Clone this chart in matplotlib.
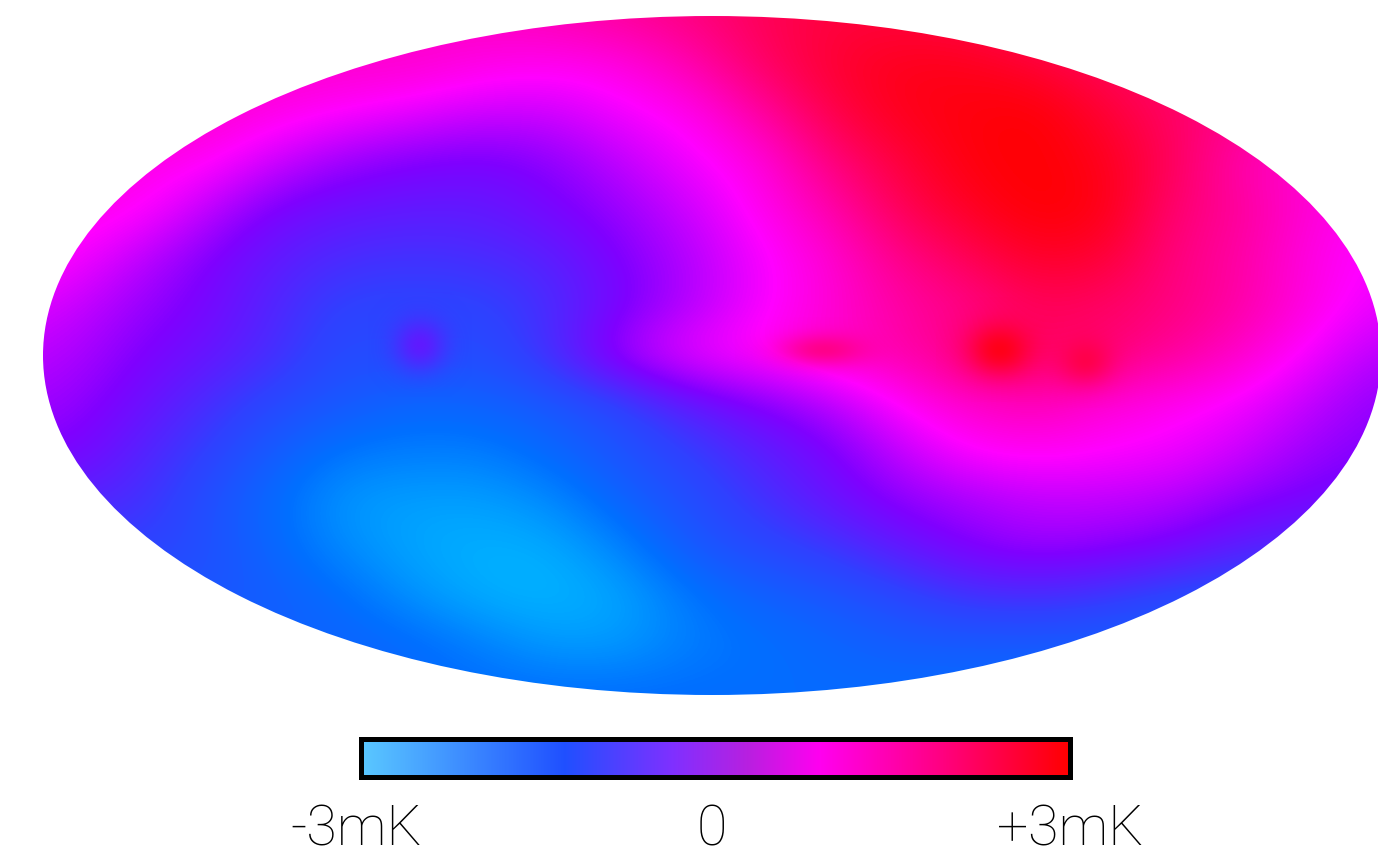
import numpy as np
from matplotlib import pyplot as plt
from matplotlib.colors import LinearSegmentedColormap
from matplotlib.patches import Ellipse, Rectangle

plt.rcParams["font.family"] = ["Roboto", "DejaVu Sans"]

# sky map, one row per line (0 = coldest, 6 = hottest)
row_016 = [4.4, 4.4, 4.4, 4.4, 4.4, 4.4, 4.4, 4.5, 4.6, 4.8, 5.0, 5.3, 5.5, 5.5, 5.4, 5.2, 5.0, 5.0, 5.0, 5.0, 5.0]
row_064 = [4.4, 4.4, 4.4, 4.4, 4.4, 4.4, 4.4, 4.2, 4.1, 4.2, 4.6, 5.2, 5.6, 5.8, 5.8, 5.6, 5.3, 5.1, 5.0, 5.0, 5.0]
row_113 = [4.4, 4.4, 4.4, 4.4, 4.2, 4.0, 3.8, 3.6, 3.6, 3.9, 4.1, 4.7, 5.4, 5.8, 5.9, 6.0, 5.6, 5.2, 4.9, 4.7, 4.6]
row_161 = [4.2, 4.2, 4.2, 4.1, 3.6, 3.2, 3.0, 2.9, 3.1, 3.5, 3.9, 4.2, 5.0, 5.5, 5.9, 6.0, 5.8, 5.3, 4.6, 4.3, 4.2]
row_210 = [4.2, 4.2, 4.1, 3.5, 2.9, 2.7, 2.6, 2.6, 2.9, 3.2, 3.6, 4.1, 4.6, 5.3, 5.7, 6.0, 5.9, 5.1, 4.8, 4.3, 4.0]
row_258 = [4.2, 4.0, 3.5, 3.0, 2.6, 2.3, 2.2, 2.3, 2.5, 3.0, 3.4, 3.9, 4.3, 4.9, 5.3, 5.7, 5.6, 5.0, 4.7, 4.2, 3.9]
row_307 = [3.8, 3.6, 3.2, 2.9, 2.4, 1.9, 1.9, 1.9, 2.3, 2.9, 3.4, 3.9, 4.3, 4.7, 4.9, 5.3, 5.2, 5.0, 4.7, 4.2, 3.8]
row_355 = [3.5, 3.4, 3.0, 2.7, 2.3, 1.7, 1.9, 1.7, 2.3, 3.4, 3.9, 4.1, 4.4, 4.6, 5.1, 5.2, 5.1, 4.8, 4.4, 3.9, 3.4]
row_404 = [3.3, 3.2, 2.8, 2.3, 1.8, 1.5, 1.2, 1.3, 1.5, 1.9, 2.6, 3.0, 3.4, 4.0, 4.4, 4.6, 4.3, 4.1, 3.9, 3.5, 3.1]
row_452 = [3.0, 3.0, 2.5, 2.0, 1.4, 0.9, 0.8, 0.8, 1.2, 1.6, 2.0, 2.5, 2.9, 3.5, 4.0, 4.1, 4.0, 3.9, 3.6, 3.2, 3.0]
row_501 = [2.5, 2.5, 2.3, 1.7, 1.1, 0.4, 0.3, 0.3, 0.6, 1.3, 1.7, 2.2, 2.7, 3.1, 3.3, 3.5, 3.5, 3.4, 3.1, 2.9, 2.7]
row_549 = [2.0, 2.0, 2.0, 1.7, 1.2, 0.6, 0.2, 0.05, 0.1, 0.7, 1.5, 1.8, 2.1, 2.6, 3.0, 3.2, 3.1, 2.9, 2.5, 2.3, 2.3]
row_598 = [1.6, 1.6, 1.6, 1.6, 1.4, 1.1, 0.5, 0.1, 0.0, 0.2, 0.9, 1.3, 1.5, 1.8, 2.2, 2.3, 2.1, 1.8, 1.6, 1.6, 1.6]
row_646 = [1.3, 1.3, 1.3, 1.3, 1.3, 1.3, 1.2, 0.8, 0.4, 0.4, 0.8, 1.0, 1.2, 1.4, 1.4, 1.4, 1.4, 1.3, 1.3, 1.3, 1.3]
row_695 = [1.1, 1.1, 1.1, 1.1, 1.1, 1.1, 1.1, 1.1, 1.1, 1.1, 1.1, 1.1, 1.1, 1.1, 1.1, 1.1, 1.1, 1.1, 1.1, 1.1, 1.1]

sky_rows = [row_016, row_064, row_113, row_161, row_210, row_258, row_307, row_355,
            row_404, row_452, row_501, row_549, row_598, row_646, row_695]

# small spots that the coarse rows are too wide to hold
spot_x = [420, 825, 1000, 1085]
spot_y = [345, 350, 350, 360]
spot_value = [2.6, 4.9, 5.8, 5.4]
spot_rx = [26, 45, 32, 28]
spot_ry = [26, 16, 26, 24]

map_colors = ["#00b4ff", "#0070ff", "#3040ff", "#8000ff", "#ff00ff", "#ff0080", "#ff0000"]
bar_colors = [(0.0, "#5ac8ff"), (0.286, "#2050ff"), (0.44, "#8030ff"),
              (0.545, "#b820e0"), (0.646, "#ff00f0"), (0.82, "#ff0080"), (1.0, "#ff0000")]
bar_labels = ["-3mK", "0", "+3mK"]

map_cmap = LinearSegmentedColormap.from_list("sky", map_colors)
bar_cmap = LinearSegmentedColormap.from_list("bar", bar_colors)

fig = plt.figure(figsize=(13.78, 8.5), dpi=100)
ax = fig.add_axes([0, 0, 1, 1])

# the map
im = ax.imshow(np.array(sky_rows), cmap=map_cmap, vmin=0, vmax=6, interpolation="bicubic",
               extent=[-34.5, 1414.5, 719, -8], aspect="auto")
oval = Ellipse((712, 355.5), 1338, 679, transform=ax.transData, facecolor="none", edgecolor="none")
ax.add_patch(oval)
im.set_clip_path(oval)

# soft edge for the spots
u = np.linspace(-2, 2, 41)
fade = np.exp(-(u[None, :] ** 2 + u[:, None] ** 2))
for x, y, value, rx, ry in zip(spot_x, spot_y, spot_value, spot_rx, spot_ry):
    ax.imshow(np.full((41, 41), value), cmap=map_cmap, vmin=0, vmax=6, alpha=fade, aspect="auto",
              interpolation="bilinear", extent=[x - 2 * rx, x + 2 * rx, y + 2 * ry, y - 2 * ry])

# the colour bar
ax.imshow(np.linspace(0, 1, 256).reshape(1, -1), cmap=bar_cmap, aspect="auto",
          extent=[360.5, 1070, 776.5, 738.5])
ax.add_patch(Rectangle((360.5, 738.5), 709.5, 38, facecolor="none", edgecolor="black", linewidth=3.6))

for x, label in zip([356, 712, 1070], bar_labels):
    ax.text(x, 846, label, ha="center", va="baseline", fontsize=40, weight="light", color="black")

ax.set_xlim(0, 1378)
ax.set_ylim(850, 0)
ax.axis("off")

fig.savefig("out.png", dpi=100)
